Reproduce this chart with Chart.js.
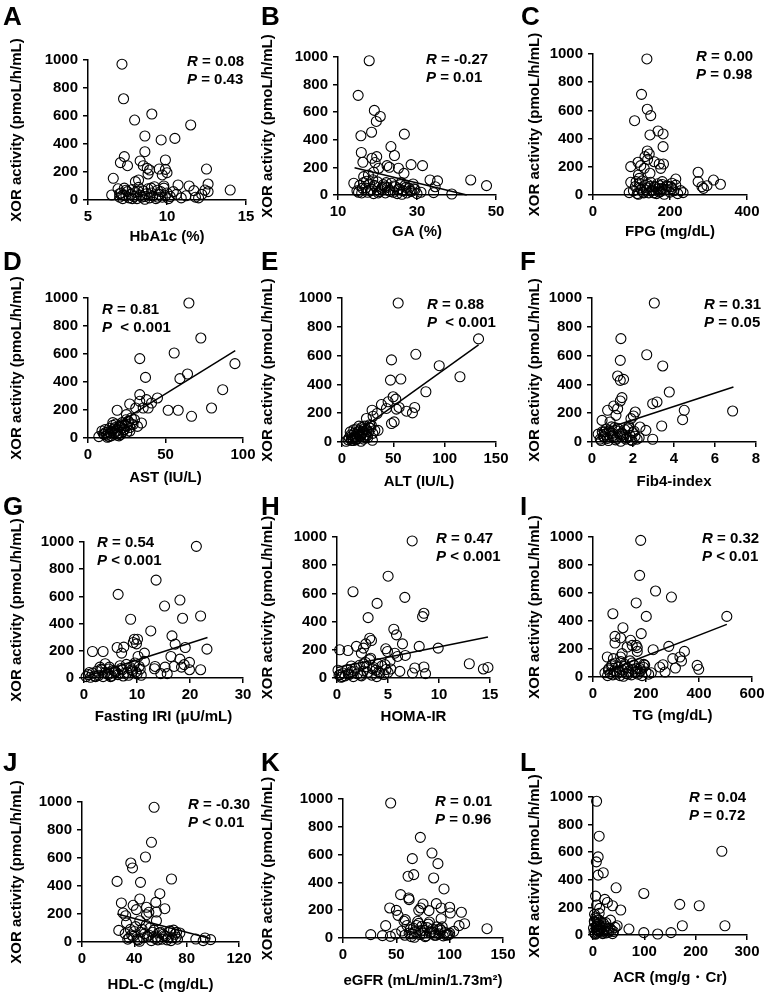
<!DOCTYPE html>
<html lang="en">
<head>
<meta charset="UTF-8">
<title>XOR activity correlations</title>
<script src="https://cdn.jsdelivr.net/npm/chart.js"></script>
<style>
  body { margin:0; background:#fff; width:779px; height:993px; position:relative; overflow:hidden;
         font-family:"Liberation Sans", Arial, sans-serif; color:#000; }
  canvas { position:absolute; }
  .letter { position:absolute; font-size:26px; font-weight:bold; line-height:1; }
  .stat { position:absolute; font-size:15px; font-weight:bold; line-height:18px; white-space:pre; }
</style>
</head>
<body>
<script>
// ---- data (x values, XOR activity, fitted line end points) ----
const xA = [7.15,7.25,7.95,9.04,11.5,10.5,9.63,8.6,8.6,7.3,7.05,7.5,8.3,8.5,8.75,8.8,8.9,9.9,9.5,9.9,10.0,9.7,6.6,12.5,12.6,8.0,8.2,10.7,11.4,11.7,14.0,12.4,12.6,6.5,
  6.9,7.0,7.1,7.2,7.3,7.4,7.5,7.6,7.7,7.8,7.9,8.0,8.1,8.2,8.3,8.4,8.5,8.6,8.7,8.8,8.9,9.0,9.1,9.2,9.3,9.4,9.5,9.6,9.7,9.8,9.9,10.0,10.2,10.4,10.6,10.9,11.2,11.8,12.0,12.2,7.0,7.4,7.8,8.2,8.6,9.0,9.4,9.8,10.1,7.2];
const yA = [970,723,571,614,536,440,429,457,345,310,267,245,279,245,226,186,214,286,221,219,195,179,155,221,114,131,143,107,100,67,71,71,60,36,
  80,20,50,10,85,30,60,15,40,75,25,55,10,90,35,20,65,5,45,80,15,50,30,95,10,70,40,60,20,85,30,50,25,60,40,15,30,20,15,40,45,70,10,60,25,85,20,100,10,35];

const xB = [17.9,15.1,19.2,19.7,20.7,15.8,18.5,26.8,15.9,23.4,24.3,16.3,18.6,19.8,19.4,22.4,23.0,25.3,26.7,28.5,31.4,20.3,19.0,17.7,16.5,14.0,33.3,35.2,43.6,47.6,38.8,34.2,34.6,
  14.8,15.5,16.0,16.5,17.0,17.5,18.0,18.5,19.0,19.5,20.0,20.5,21.0,21.5,22.0,22.5,23.0,23.5,24.0,24.5,25.0,25.5,26.0,26.5,27.0,27.5,28.0,28.5,29.0,29.5,30.0,31.0,16.2,17.2,18.2,19.2,20.2,21.2,22.2,23.2,24.2,25.2,26.2,27.2,28.2,29.2,15.2,18.8,21.8,25.8];
const yB = [973,722,613,533,569,429,455,441,308,351,286,237,266,278,235,213,201,194,157,220,213,194,165,145,133,85,109,102,109,68,7,17,60,
  30,70,15,90,50,20,80,40,10,60,95,25,45,75,15,55,35,85,20,60,10,45,90,30,70,15,50,25,80,40,10,20,50,100,30,70,15,55,90,25,65,40,5,55,30,45,20,110,60,75];
const fitB = [[14.2,198],[42.6,0]];

const xC = [140,126,141,150,108,169,148,182,182,141,146,135,142,117,98,124,133,148,159,172,183,176,118,120,180,174,273,273,283,287,296,313,331,98,94,215,205,202,228,234,
  105,110,115,120,125,130,135,140,145,150,155,160,165,170,175,180,185,190,195,200,205,210,215,220,112,122,132,142,152,162,172,182,192,118,128,138,148,158,168,178];
const yC = [965,714,608,563,527,454,426,433,343,312,291,272,253,232,201,208,189,154,236,220,220,189,142,118,95,66,161,95,59,47,66,106,76,90,17,113,83,59,31,17,
  30,60,10,85,40,20,70,50,15,90,35,60,10,45,25,75,5,40,60,20,45,30,70,10,95,50,15,75,30,55,20,40,65,5,100,35,60,15,80,45];

const xD = [65.1,72.8,55.6,33.4,94.8,64.2,59.3,37.1,86.9,33.4,44.8,37.7,33.4,41.0,26.9,30.8,35.6,38.8,18.8,51.7,58.2,79.7,66.8,24.8,28.0,31.9,34.5,30.0,25.9,
  7,9,10,11,12,13,14,15,16,17,18,19,20,21,22,23,24,25,26,27,28,12.5,14.5,16.5,18.5,20.5,22.5,24.5,11.5,13.5,15.5,17.5,19.5,21.5,23.5,10.5,16,18,20,22,25,27,29];
const yD = [964,714,607,567,531,457,424,433,345,310,286,274,262,250,243,214,214,214,198,198,198,214,155,167,143,83,107,131,119,
  10,50,30,60,20,45,70,15,90,35,100,55,80,25,110,60,90,40,120,75,100,5,35,65,20,85,45,130,40,10,50,75,30,95,60,25,110,45,15,70,85,50,95];
const fitD = [[7,20],[95,624]];

const xE = [54.7,133,71.9,48.2,94.7,114.9,47.2,57.3,81.7,49.8,52.4,44.9,38.4,43.3,55.6,53.0,70.8,62.8,68.6,29.3,34.2,23.8,30.3,48.2,50.8,35.1,29.6,28.6,
  4,6,7,8,9,10,11,12,13,14,15,16,17,18,19,20,21,22,23,24,25,26,27,28,30,32,9.5,12.5,15.5,18.5,21.5,24.5,10.5,13.5,16.5,19.5,22.5,8.5,11.5,14.5,17.5,20.5,26.5];
const yE = [965,716,609,570,530,453,430,437,349,314,298,279,260,233,240,228,240,214,202,221,198,163,179,128,140,81,12,116,
  5,15,30,70,20,45,10,60,35,90,25,55,80,40,100,65,20,110,50,85,30,70,120,95,60,80,10,40,70,5,90,45,25,15,110,55,30,50,85,20,45,75,100];
const fitE = [[3,10],[133,675]];

const xF = [3.04,1.41,2.67,3.45,1.38,1.25,1.38,1.54,3.77,1.46,1.38,2.96,3.17,1.06,0.76,1.25,1.17,2.11,2.02,1.90,4.5,4.42,6.86,3.4,2.96,2.63,2.34,0.88,0.49,
  0.3,0.4,0.5,0.6,0.7,0.8,0.9,1.0,1.1,1.2,1.3,1.4,1.5,1.6,1.7,1.8,1.9,2.0,2.1,2.2,0.45,0.65,0.85,1.05,1.25,1.45,1.65,1.85,2.05,0.55,0.75,0.95,1.15,1.35,1.55,1.75,1.95,0.6,1.0,1.4,1.8,2.3];
const yF = [965,718,606,528,567,458,428,435,347,308,285,266,278,250,220,231,185,208,181,162,220,155,215,111,19,81,104,139,150,
  55,20,70,35,90,10,60,45,100,25,75,5,50,85,30,110,15,65,40,20,10,50,80,30,95,60,20,45,75,40,25,105,15,55,35,90,10,70,60,40,100,30];
const fitF = [[0.3,75],[6.9,382]];

const xG = [21.2,13.6,6.44,18.1,15.2,22.0,18.6,8.8,12.6,16.6,9.5,10.1,9.3,9.9,17.2,6.25,7.5,19.1,23.2,1.6,3.6,7.1,11.4,10.2,16.4,18.1,18.9,19.9,17.0,15.3,13.4,13.3,18.4,19.9,22.0,14.5,15.7,11.4,4.0,4.7,
  0.4,0.8,1.2,1.6,2.0,2.4,2.8,3.2,3.6,4.0,4.4,4.8,5.2,5.6,6.0,6.4,6.8,7.2,7.6,8.0,8.4,8.8,9.2,9.6,10.0,10.4,10.8,1.0,2.2,3.4,4.6,5.8,7.0,8.2,9.4,10.6,3.0,5.0,7.4,9.0,9.8];
const yG = [968,720,615,573,529,456,439,432,346,310,285,285,261,251,249,224,227,224,212,195,195,183,183,158,158,139,98,115,85,80,85,68,80,61,61,32,32,122,105,66,
  10,25,5,35,15,50,20,65,10,40,30,80,15,55,45,25,90,60,35,100,20,75,50,110,30,85,20,40,10,60,25,50,70,40,95,65,80,10,15,60,45];
const fitG = [[0.5,13],[23.3,298]];

const xH = [7.37,5.01,1.57,3.93,6.65,8.52,8.39,3.05,5.57,5.83,3.21,3.38,2.82,6.42,4.78,4.95,1.9,0.26,1.08,2.39,2.6,9.92,8.06,6.7,5.93,5.67,12.97,14.35,14.8,8.52,7.63,8.68,7.4,6.16,5.27,
  0.1,0.2,0.4,0.6,0.8,1.0,1.2,1.4,1.6,1.8,2.0,2.2,2.4,2.6,2.8,3.0,3.2,3.4,3.6,3.8,4.0,4.2,4.4,4.6,4.8,5.0,5.2,0.5,1.1,1.7,2.3,2.9,3.5,4.1,4.7,1.4,2.6,3.3,0.3,3.9];
const yH = [972,722,612,529,572,459,435,428,346,306,282,266,242,242,207,188,224,200,195,176,212,212,224,160,153,176,101,64,75,78,71,31,35,47,64,
  55,20,5,35,15,60,25,45,10,70,30,90,15,50,110,40,130,20,75,55,100,35,85,25,60,40,120,10,30,50,20,80,65,45,95,85,100,140,25,10];
const fitH = [[0,75],[14.8,290]];

const xI = [180,176,236,163,296,75,201,182,505,113,83,104,142,83,163,167,148,129,286,227,167,328,345,301,334,311,264,272,252,393,399,54,77,104,110,192,
  45,55,60,65,70,75,80,85,90,95,100,105,110,115,120,125,130,135,140,145,150,155,160,165,170,175,180,185,190,200,210,220,58,72,88,102,118,132,148,162,178,195];
const yI = [976,726,614,529,571,452,433,310,433,352,290,279,262,243,226,210,226,214,219,195,183,143,183,131,114,64,88,36,71,83,55,143,131,143,167,90,
  30,10,60,25,80,15,45,100,20,70,35,110,50,5,90,25,65,40,115,15,55,85,30,60,20,95,45,10,70,35,20,30,50,90,40,10,75,20,100,40,60,85];
const fitI = [[45,37],[505,376]];

const xJ = [55.1,53.1,48.5,37.3,38.6,26.8,44.7,68.4,59.5,44.2,56.4,39.1,30.1,63.3,49.3,41.6,56.9,51.1,49.3,31.4,33.4,44.2,56.9,34.0,28.1,94,98.3,87,92.6,74.8,67.7,72.3,
  33,35,37,39,41,43,45,47,49,51,53,55,57,59,61,63,65,67,69,71,73,36,40,44,48,52,56,60,64,68,72,38,42,46,50,54,58,62,66,70];
const yJ = [962,712,607,564,529,433,426,450,345,307,283,262,279,238,248,231,214,212,195,207,188,152,152,136,83,29,17,21,10,64,76,69,
  60,20,90,40,110,15,70,30,120,50,10,85,35,65,20,45,15,80,30,55,20,30,75,5,60,100,25,70,40,10,35,50,20,90,40,70,15,55,30,85];
const fitJ = [[27,200],[98,25]];

const xK = [44.7,72.5,65,83.4,89,66.3,61,85,94.7,54,61.6,62,75,87.5,92,100,72.8,71,80.6,43.8,50,100.6,111,51.6,57.2,58.4,92,114,108.8,103.8,99.4,135,40,26,37,44.4,49.4,
  55,58,60,62,64,66,68,70,72,74,76,78,80,82,84,86,88,90,92,94,96,98,63,67,71,75,79,83,87,91,65,69,73,77,81,85,89,93,97,100];
const yK = [971,724,571,611,535,456,444,432,353,312,288,276,245,247,216,221,216,199,197,216,199,180,185,163,120,132,139,103,89,48,24,67,89,24,17,12,29,
  50,20,90,35,10,70,45,120,25,85,55,15,100,40,65,20,80,30,55,15,40,25,60,5,105,35,75,45,20,65,30,90,50,10,115,40,60,80,20,35];

const xL = [7,12,10,6.5,10,20,45,99,251,5,23,28,38,54,169,207,7,13,12,257,174,70,99,126,152,47,34,12,
  1,2,3,4,5,6,7,8,9,10,11,12,13,14,15,16,18,20,22,24,26,28,30,33,36,40,43,2.5,4.5,6.5,8.5,10.5,14,19,25,31,38,3,7,11];
const yL = [969,716,566,530,434,451,342,301,607,282,258,236,212,181,222,212,217,193,157,67,67,43,17,7,17,67,108,108,
  50,20,90,10,130,60,35,75,15,110,45,25,70,40,95,20,55,85,30,65,15,45,20,50,35,25,55,100,5,120,40,80,60,10,90,30,10,150,60,30];

const yTitle = 'XOR activity (pmoL/h/mL)';

// ---- panels: data refs, axes, and where each sits on the page ----
const panels = [
  { key:'A', xs:xA, ys:yA, fit:null, xMin:5, xMax:15, step:5,  xTitle:'HbA1c (%)',  r:'0.08',  p:'= 0.43',  plot:[88,246,60,200],  titleX:17,  gap:37, letter:[3,3],   stat:[187,52] },
  { key:'B', xs:xB, ys:yB, fit:fitB, xMin:10, xMax:50, step:20, xTitle:'GA (%)',    r:'-0.27', p:'= 0.01',  plot:[338,496,57,195], titleX:268, gap:37, letter:[261,3], stat:[426,50] },
  { key:'C', xs:xC, ys:yC, fit:null, xMin:0, xMax:400, step:200, xTitle:'FPG (mg/dL)', r:'0.00', p:'= 0.98', plot:[593,747,54,195], titleX:535, gap:37, letter:[521,3], stat:[696,47] },
  { key:'D', xs:xD, ys:yD, fit:fitD, xMin:0, xMax:100, step:50, xTitle:'AST (IU/L)', r:'0.81',  p:' < 0.001', plot:[88,243,298,438], titleX:17, gap:40, letter:[3,248], stat:[102,300] },
  { key:'E', xs:xE, ys:yE, fit:fitE, xMin:0, xMax:150, step:50, xTitle:'ALT (IU/L)', r:'0.88',  p:' < 0.001', plot:[342,496,298,442], titleX:268, gap:40, letter:[261,248], stat:[427,295] },
  { key:'F', xs:xF, ys:yF, fit:fitF, xMin:0, xMax:8, step:2,    xTitle:'Fib4-index', r:'0.31',  p:'= 0.05',  plot:[592,756,298,442], titleX:535, gap:40, letter:[520,248], stat:[704,295] },
  { key:'G', xs:xG, ys:yG, fit:fitG, xMin:0, xMax:30, step:10,  xTitle:'Fasting IRI (\u03bcU/mL)', r:'0.54', p:'< 0.001', plot:[84,243,542,678], titleX:17, gap:39, letter:[3,493], stat:[97,533] },
  { key:'H', xs:xH, ys:yH, fit:fitH, xMin:0, xMax:15, step:5,   xTitle:'HOMA-IR',    r:'0.47',  p:'< 0.001', plot:[337,490,537,678], titleX:268, gap:39, letter:[261,493], stat:[436,529] },
  { key:'I', xs:xI, ys:yI, fit:fitI, xMin:0, xMax:600, step:200, xTitle:'TG (mg/dL)', r:'0.32',  p:'< 0.01',  plot:[593,752,537,677], titleX:535, gap:39, letter:[520,493], stat:[702,529] },
  { key:'J', xs:xJ, ys:yJ, fit:fitJ, xMin:0, xMax:120, step:40, xTitle:'HDL-C (mg/dL)', r:'-0.30', p:'< 0.01', plot:[82,239,802,942], titleX:17, gap:43, letter:[3,749], stat:[188,795] },
  { key:'K', xs:xK, ys:yK, fit:null, xMin:0, xMax:150, step:50, xTitle:'eGFR (mL/min/1.73m\u00b2)', r:'0.01', p:'= 0.96', plot:[343,503,799,938], titleX:268, gap:43, letter:[261,749], stat:[435,792] },
  { key:'L', xs:xL, ys:yL, fit:null, xMin:0, xMax:300, step:100, xTitle:'ACR (mg/g\u30fbCr)', r:'0.04', p:'= 0.72', plot:[593,747,797,935], titleX:535, gap:43, letter:[520,749], stat:[689,788] }
];

Chart.defaults.font.family = '"Liberation Sans", Arial, sans-serif';
const tickFont = { size:15, weight:'bold' };
const titleFont = { size:15, weight:'bold' };

panels.forEach(p => {
  const [x0, x1, yT, yB] = p.plot;
  const padT = 40, padR = 18, hx = 52;
  const left = p.titleX - 11;
  const wy = x0 - left;

  const cv = document.createElement('canvas');
  cv.width = (x1 - x0) + wy + padR;
  cv.height = padT + (yB - yT) + hx;
  cv.style.left = left + 'px';
  cv.style.top = (yT - padT) + 'px';
  document.body.appendChild(cv);

  const letter = document.createElement('div');
  letter.className = 'letter';
  letter.style.left = p.letter[0] + 'px';
  letter.style.top = p.letter[1] + 'px';
  letter.textContent = p.key;
  document.body.appendChild(letter);

  const stat = document.createElement('div');
  stat.className = 'stat';
  stat.style.left = p.stat[0] + 'px';
  stat.style.top = p.stat[1] + 'px';
  stat.innerHTML = '<i>R</i> = ' + p.r + '\n<i>P</i> ' + p.p;
  document.body.appendChild(stat);

  const datasets = [{
    type: 'scatter',
    data: p.xs.map((x, i) => ({ x: x, y: p.ys[i] })),
    pointRadius: 5,
    pointBorderColor: '#000',
    pointBackgroundColor: 'rgba(0,0,0,0)',
    pointBorderWidth: 1.1,
    clip: false
  }];
  if (p.fit) {
    datasets.push({
      type: 'line',
      data: p.fit.map(pt => ({ x: pt[0], y: pt[1] })),
      borderColor: '#000',
      borderWidth: 1.5,
      pointRadius: 0,
      showLine: true,
      fill: false,
      clip: false
    });
  }

  const axisGrid = { drawOnChartArea: false, drawTicks: true, tickLength: 5, color: '#000', lineWidth: 1.5 };
  const axisBorder = { color: '#000', width: 1.5 };
  const plain = v => String(v);

  new Chart(cv, {
    type: 'scatter',
    data: { datasets: datasets },
    options: {
      responsive: false,
      animation: false,
      devicePixelRatio: 1,
      layout: { padding: { left: 0, right: padR, top: padT, bottom: 0 } },
      plugins: { legend: { display: false }, tooltip: { enabled: false } },
      scales: {
        x: {
          type: 'linear', min: p.xMin, max: p.xMax,
          ticks: { stepSize: p.step, color: '#000', font: tickFont, padding: 3, maxRotation: 0, autoSkip: false, callback: plain },
          grid: axisGrid, border: axisBorder,
          title: { display: true, text: p.xTitle, color: '#000', font: titleFont, padding: { top: 0, bottom: hx - 9 - p.gap } },
          afterFit: s => { s.height = hx; }
        },
        y: {
          type: 'linear', min: 0, max: 1000,
          ticks: { stepSize: 200, color: '#000', font: tickFont, padding: 5, callback: plain },
          grid: axisGrid, border: axisBorder,
          title: { display: true, text: yTitle, color: '#000', font: titleFont, padding: { top: 2, bottom: 0 } },
          afterFit: s => { s.width = wy; }
        }
      }
    }
  });
});
</script>
</body>
</html>
